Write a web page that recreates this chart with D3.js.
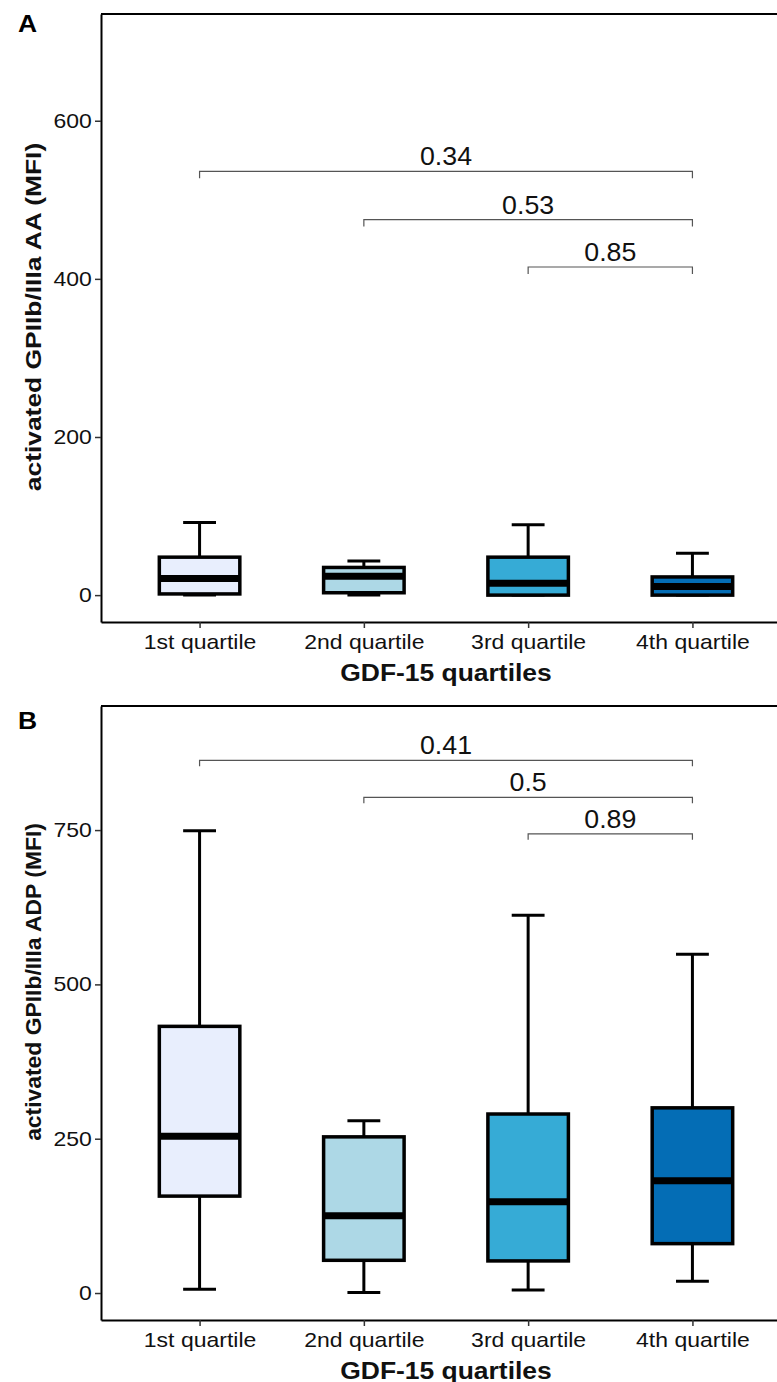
<!DOCTYPE html>
<html>
<head>
<meta charset="utf-8">
<script src="https://cdn.jsdelivr.net/npm/d3@7"></script>
<style>
  body { margin: 0; background: #fff; }
  svg { display: block; }
</style>
</head>
<body>
<script>
// categories and box stats
const categories = ['1st quartile', '2nd quartile', '3rd quartile', '4th quartile'];
const fills = ['#e8eefd', '#add8e6', '#36abd6', '#046db5'];

// panel A: activated GPIIb/IIIa AA (MFI)
const aaLow = [0, 0, 0, 0];
const aaQ1 = [1.5, 3, 0, 0];
const aaMedian = [21, 24, 15, 11];
const aaQ3 = [48, 35, 48, 23];
const aaHigh = [92, 43, 89, 53];
const aaTicks = [0, 200, 400, 600];
const aaPairs = [[1, 4], [2, 4], [3, 4]];
const aaP = ['0.34', '0.53', '0.85'];
const aaPY = [536, 475, 415];

// panel B: activated GPIIb/IIIa ADP (MFI)
const adpLow = [6, 1, 5, 19];
const adpQ1 = [157, 53, 52, 80];
const adpMedian = [254, 125, 148, 182];
const adpQ3 = [432, 253, 290, 300];
const adpHigh = [749, 279, 612, 549];
const adpTicks = [0, 250, 500, 750];
const adpPairs = [[1, 4], [2, 4], [3, 4]];
const adpP = ['0.41', '0.5', '0.89'];
const adpPY = [863, 803, 744];

const W = 777, H = 1382;
const SX = 1.15; // picture is a little stretched sideways
const font = "'Liberation Sans', Arial, sans-serif";

const svg = d3.select('body').append('svg')
  .attr('width', W)
  .attr('height', H)
  .style('font-family', font);

const x = d3.scaleLinear().domain([0.4, 4.6]).range([101, 791]);

const drawPanel = (p) => {
  const y = d3.scaleLinear().domain(p.domain).range([p.bottom, p.top]);
  const g = svg.append('g');

  // top frame line
  g.append('line')
    .attr('x1', 101).attr('x2', W)
    .attr('y1', p.top).attr('y2', p.top)
    .attr('stroke', '#000').attr('stroke-width', 2);

  // y axis
  const yAxis = g.append('g')
    .attr('transform', 'translate(101,0)')
    .call(d3.axisLeft(y).tickValues(p.ticks).tickSize(6).tickSizeOuter(0).tickPadding(2));
  yAxis.select('.domain').attr('stroke', '#000').attr('stroke-width', 2);
  yAxis.selectAll('.tick line').attr('stroke', '#333').attr('stroke-width', 1.5);
  yAxis.selectAll('.tick text')
    .attr('font-size', 20).attr('font-family', font).attr('fill', '#111')
    .attr('transform', `scale(${SX},1)`);

  // x axis
  const xAxis = g.append('g')
    .attr('transform', `translate(0,${p.bottom})`)
    .call(d3.axisBottom(x).tickValues([1, 2, 3, 4])
      .tickFormat((d) => categories[d - 1])
      .tickSize(6).tickSizeOuter(0).tickPadding(7));
  xAxis.select('.domain').attr('stroke', '#000').attr('stroke-width', 2);
  xAxis.selectAll('.tick line').attr('stroke', '#333').attr('stroke-width', 1.5);
  xAxis.selectAll('.tick text')
    .attr('font-size', 20).attr('font-family', font).attr('fill', '#111')
    .attr('transform', `scale(${SX},1)`);

  // boxes
  const bw = 0.49, cap = 0.2;
  const idx = d3.range(categories.length);
  const boxes = g.selectAll('.box').data(idx).enter().append('g');

  boxes.append('line')
    .attr('x1', (i) => x(i + 1)).attr('x2', (i) => x(i + 1))
    .attr('y1', (i) => y(p.high[i])).attr('y2', (i) => y(p.low[i]))
    .attr('stroke', '#000').attr('stroke-width', 3);
  ['high', 'low'].forEach((k) => {
    boxes.append('line')
      .attr('x1', (i) => x(i + 1 - cap / 2)).attr('x2', (i) => x(i + 1 + cap / 2))
      .attr('y1', (i) => y(p[k][i])).attr('y2', (i) => y(p[k][i]))
      .attr('stroke', '#000').attr('stroke-width', 3);
  });
  boxes.append('rect')
    .attr('x', (i) => x(i + 1 - bw / 2))
    .attr('width', x(bw) - x(0))
    .attr('y', (i) => y(p.q3[i]))
    .attr('height', (i) => y(p.q1[i]) - y(p.q3[i]))
    .attr('fill', (i) => fills[i])
    .attr('stroke', '#000').attr('stroke-width', 3.5);
  boxes.append('line')
    .attr('x1', (i) => x(i + 1 - bw / 2)).attr('x2', (i) => x(i + 1 + bw / 2))
    .attr('y1', (i) => y(p.median[i])).attr('y2', (i) => y(p.median[i]))
    .attr('stroke', '#000').attr('stroke-width', 7);

  // p-value brackets
  p.pairs.forEach((pr, i) => {
    const by = y(p.py[i]);
    g.append('path')
      .attr('d', `M${x(pr[0])},${by + p.tick}V${by}H${x(pr[1])}V${by + p.tick}`)
      .attr('fill', 'none').attr('stroke', '#555').attr('stroke-width', 1.2);
    const mx = (x(pr[0]) + x(pr[1])) / 2;
    g.append('text')
      .attr('transform', `translate(${mx},${by - 6}) scale(1.07,1)`)
      .attr('text-anchor', 'middle')
      .attr('font-size', 25).attr('fill', '#111')
      .text(p.pv[i]);
  });

  // titles
  g.append('text')
    .attr('transform', `translate(446,${p.bottom + 59}) scale(${SX},1)`)
    .attr('text-anchor', 'middle')
    .attr('font-size', 23).attr('font-weight', 'bold').attr('fill', '#111')
    .text('GDF-15 quartiles');
  g.append('text')
    .attr('transform', `translate(41,${p.titleY}) rotate(-90) scale(${p.titleS},1)`)
    .attr('text-anchor', 'middle')
    .attr('font-size', 22).attr('font-weight', 'bold').attr('fill', '#111')
    .text(p.yTitle);
  g.append('text')
    .attr('transform', `translate(18,${p.labelY}) scale(${SX},1)`)
    .attr('font-size', 23).attr('font-weight', 'bold').attr('fill', '#000')
    .text(p.label);
};

drawPanel({
  top: 14, bottom: 622, domain: [-34, 735], ticks: aaTicks,
  low: aaLow, q1: aaQ1, median: aaMedian, q3: aaQ3, high: aaHigh,
  pairs: aaPairs, pv: aaP, py: aaPY, tick: 7,
  yTitle: 'activated GPIIb/IIIa AA (MFI)', titleY: 317, titleS: 1.2, label: 'A', labelY: 32
});
drawPanel({
  top: 706, bottom: 1320, domain: [-43.7, 951], ticks: adpTicks,
  low: adpLow, q1: adpQ1, median: adpMedian, q3: adpQ3, high: adpHigh,
  pairs: adpPairs, pv: adpP, py: adpPY, tick: 6,
  yTitle: 'activated GPIIb/IIIa ADP (MFI)', titleY: 982, titleS: 1.04, label: 'B', labelY: 729
});
</script>
</body>
</html>
